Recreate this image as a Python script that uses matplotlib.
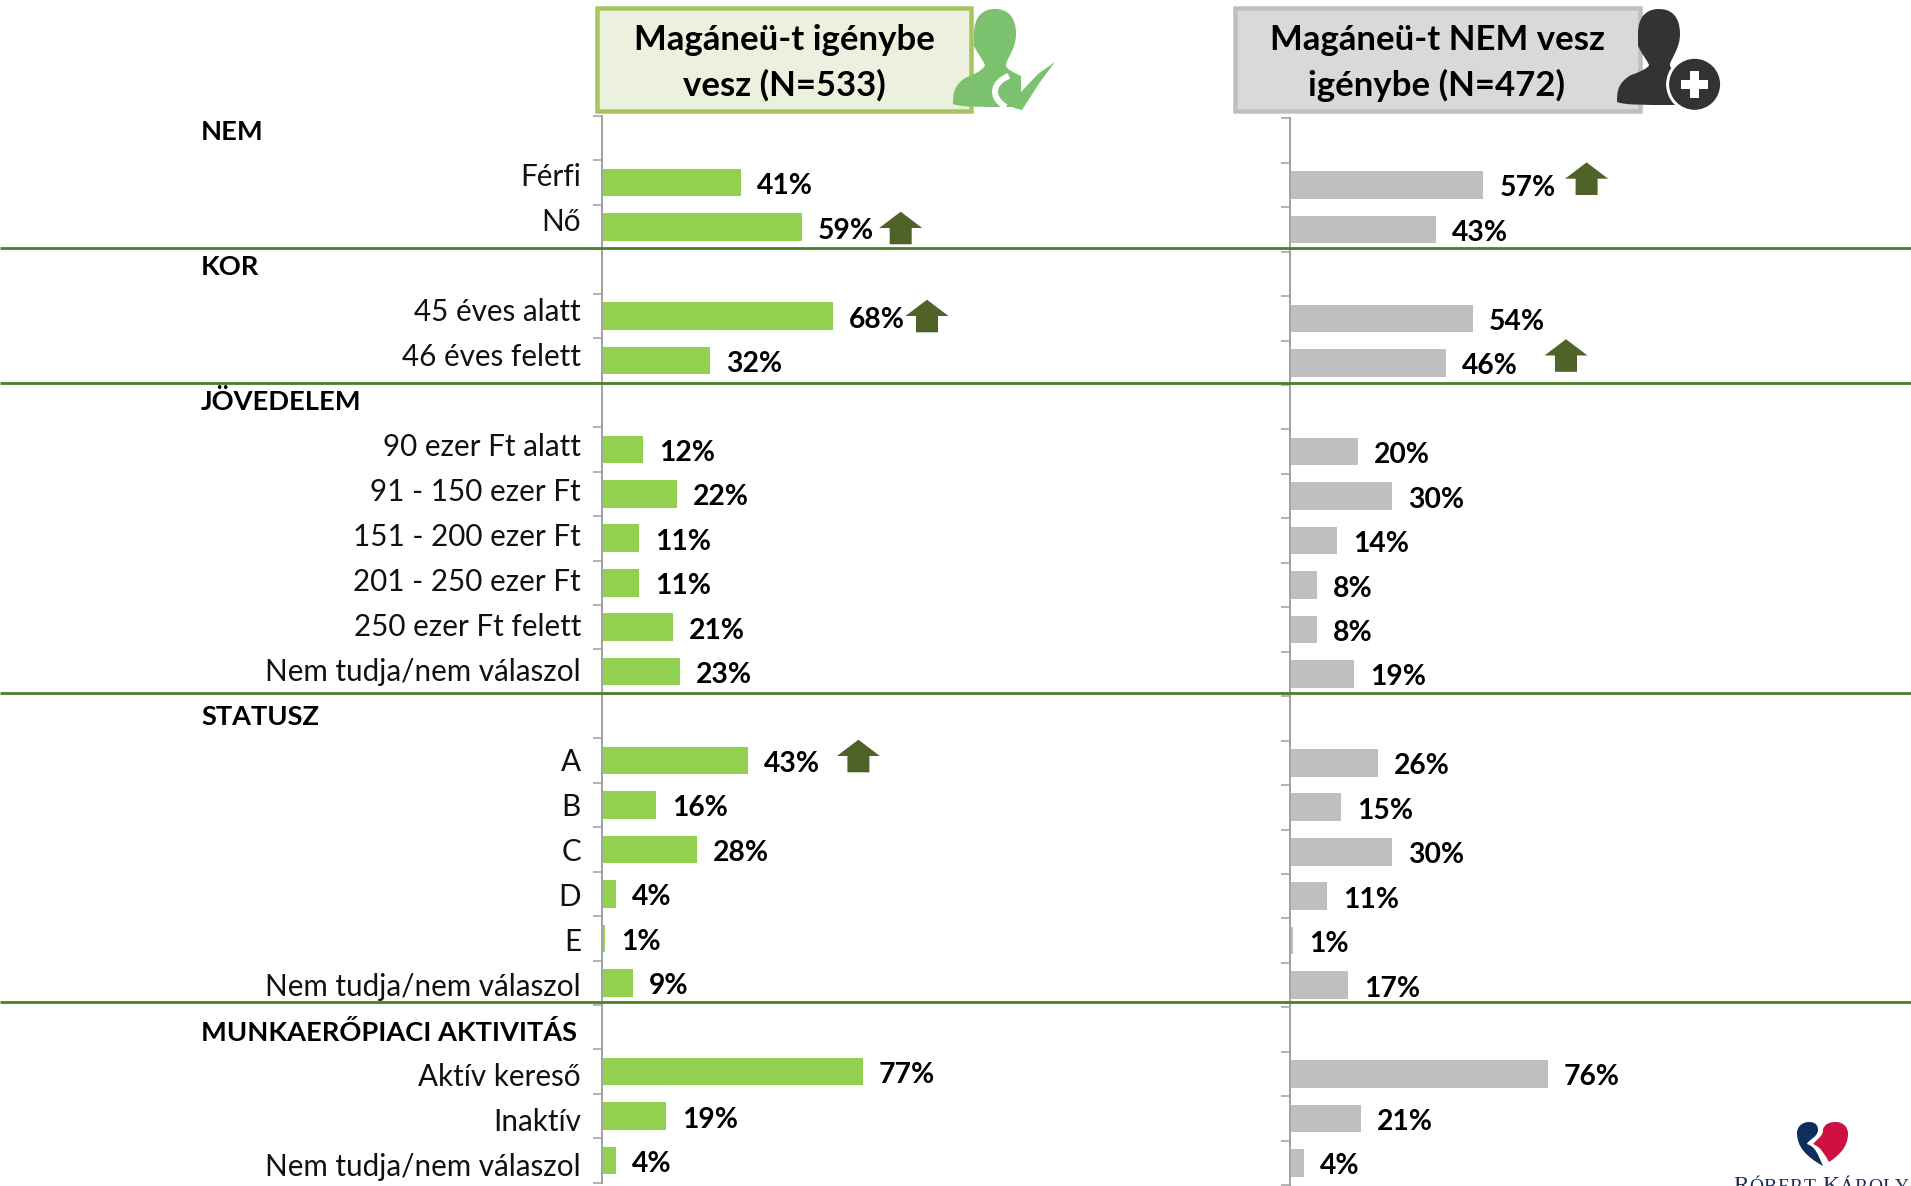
import matplotlib
matplotlib.use("Agg")
import matplotlib.pyplot as plt
from matplotlib.patches import Ellipse, Rectangle, Polygon, PathPatch
from matplotlib.path import Path

W, H = 1911, 1186
plt.rcParams['font.family'] = ['Lato', 'DejaVu Sans']

# ---- data ----
rows = ["NEM", "Férfi", "Nő", "KOR", "45 éves alatt", "46 éves felett", "JÖVEDELEM",
        "90 ezer Ft alatt", "91 - 150 ezer Ft", "151 - 200 ezer Ft", "201 - 250 ezer Ft",
        "250 ezer Ft felett", "Nem tudja/nem válaszol", "STATUSZ", "A", "B", "C", "D", "E",
        "Nem tudja/nem válaszol", "MUNKAERŐPIACI AKTIVITÁS", "Aktív kereső", "Inaktív",
        "Nem tudja/nem válaszol"]
header_rows = [0, 3, 6, 13, 20]
igenybe = [None, 41, 59, None, 68, 32, None, 12, 22, 11, 11, 21, 23, None,
           43, 16, 28, 4, 1, 9, None, 77, 19, 4]
nem_igenybe = [None, 57, 43, None, 54, 46, None, 20, 30, 14, 8, 8, 19, None,
               26, 15, 30, 11, 1, 17, None, 76, 21, 4]
title_left = "Magáneü-t igénybe\nvesz (N=533)"
title_right = "Magáneü-t NEM vesz\nigénybe (N=472)"

PX = 0.72  # points per pixel at dpi 100
FS_VAL = 20.3
FS_CAT = 21.3
FS_HEAD = 19.6
FS_TITLE = 25

fig = plt.figure(figsize=(W / 100, H / 100), dpi=100, facecolor="white")

def px_axes(x0, x1, y0, y1):
    return fig.add_axes([x0 / W, 1 - y1 / H, (x1 - x0) / W, (y1 - y0) / H])

ov = fig.add_axes([0, 0, 1, 1], zorder=5)
ov.set_xlim(0, W); ov.set_ylim(H, 0); ov.axis("off"); ov.patch.set_alpha(0)

UNIT = 3.39
def panel(x0, top, vals, color):
    bottom = top + 24 * 44.45
    width = 600
    ax = px_axes(x0, x0 + width, top, bottom)
    ax.set_zorder(3); ax.patch.set_alpha(0)
    ax.set_xlim(0, width / UNIT); ax.set_ylim(24, 0)
    pos = [i + 0.5 for i, v in enumerate(vals) if v is not None]
    val = [v for v in vals if v is not None]
    ax.barh(pos, val, height=0.62, color=color, edgecolor="none")
    for p, v in zip(pos, val):
        ax.annotate(f"{v}%", xy=(v, p), xytext=(16 * PX, -3.5 * PX), textcoords="offset points",
                    va="center", ha="left", fontsize=FS_VAL, fontweight="bold", color="black",
                    annotation_clip=False)
    for s in ("top", "right", "bottom"):
        ax.spines[s].set_visible(False)
    ax.spines["left"].set_color("#A3A3A3"); ax.spines["left"].set_linewidth(2 * PX)
    ax.set_yticks(range(25)); ax.set_yticklabels([])
    ax.set_xticks([])
    ax.tick_params(axis="y", length=9 * PX, width=1.6 * PX, color="#A3A3A3", direction="out")
    return ax

panel(602, 116, igenybe, "#92D050")
panel(1290, 118.3, nem_igenybe, "#BFBFBF")

# separators
for y in (248.4, 383, 692.7, 1001.7):
    ov.plot([0, W], [y, y], color="#4F7F2A", lw=2.8 * PX, solid_capstyle="butt", zorder=2)

# row labels
for i, name in enumerate(rows):
    y = 131.5 + 45.04 * i
    if i in header_rows:
        ov.text(201, y, name, ha="left", va="center", fontsize=FS_HEAD, fontweight="bold", color="black")
    else:
        ov.text(581, y, name, ha="right", va="center", fontsize=FS_CAT, color="#111111")

# title boxes
ov.add_patch(Rectangle((597, 8), 374, 103, fc="#EBF1DE", ec="#A6C45F", lw=4.5 * PX, zorder=3))
ov.add_patch(Rectangle((1235, 8), 405, 103, fc="#D9D9D9", ec="#BFBFBF", lw=4.5 * PX, zorder=3))
for cx, t in ((784, title_left), (1437, title_right)):
    a, b = t.split("\n")
    ov.text(cx, 40, a, ha="center", va="center", fontsize=FS_TITLE, fontweight="bold", color="black", zorder=4)
    ov.text(cx, 85, b, ha="center", va="center", fontsize=FS_TITLE, fontweight="bold", color="black", zorder=4)

# person icons
def person(hx, color, bottom):
    pts = [(hx - 21, 34), (hx - 21, 16), (hx - 12, 9), (hx, 9), (hx + 12, 9), (hx + 21, 16), (hx + 21, 34),
           (hx + 21, 48), (hx + 13, 57), (hx + 11, 64), (hx + 10, 69), (hx + 18, 72), (hx + 26, 76),
           (hx + 26, 90), (hx + 26, bottom), (hx + 26, bottom),
           (hx - 25, bottom), (hx - 33, bottom), (hx - 42, bottom - 3), (hx - 42, bottom - 12),
           (hx - 42, bottom - 22), (hx - 28, bottom - 30), (hx - 16, bottom - 34),
           (hx - 10, 67), (hx - 10, 65), (hx - 11, 62), (hx - 17, 54), (hx - 21, 46), (hx - 21, 34)]
    codes = [Path.MOVETO] + [Path.CURVE4] * 12 + [Path.LINETO] * 3 + [Path.CURVE4] * 12 + [Path.LINETO]
    ov.add_patch(PathPatch(Path(pts, codes), fc=color, ec="none", zorder=4.5))

person(995, "#7BC16E", 107)
person(1659, "#333333", 105)

# check mark
ck = [(999, 88), (1009, 80), (1021, 92), (1038, 74), (1055, 62), (1040, 82), (1022, 110), (1014, 108)]
ov.add_patch(Polygon(ck, closed=True, fc="#7BC16E", ec="white", lw=0, zorder=4.7))
ov.add_patch(PathPatch(Path([(1009, 76), (992, 82), (990, 98), (1006, 107)],
                            [Path.MOVETO, Path.CURVE4, Path.CURVE4, Path.CURVE4]),
                       fc="none", ec="white", lw=6 * PX, zorder=4.6))

# plus badge
ov.add_patch(Ellipse((1694.6, 84.3), 54, 54, fc="#333333", ec="white", lw=3 * PX, zorder=4.7))
ov.add_patch(Rectangle((1681, 80), 27, 9, fc="white", ec="none", zorder=4.8))
ov.add_patch(Rectangle((1690, 71), 9, 27, fc="white", ec="none", zorder=4.8))

# significance arrows
def up_arrow(cx, cy):
    w, h, s, hh = 21.5, 16.3, 11, 16.3
    pts = [(cx - w, cy), (cx, cy - h), (cx + w, cy), (cx + s, cy), (cx + s, cy + hh), (cx - s, cy + hh), (cx - s, cy)]
    ov.add_patch(Polygon(pts, closed=True, fc="#4F6228", ec="none", zorder=4))

for cx, cy in ((900.7, 228), (927, 316), (858.4, 756), (1586.6, 178.7), (1566, 355.5)):
    up_arrow(cx, cy)

# logo
heart_l = [(1823, 1166), (1805, 1156), (1797, 1146), (1797, 1133), (1797, 1126), (1803, 1122), (1809, 1122),
           (1816, 1122), (1818, 1126), (1818, 1130), (1818, 1137), (1808, 1140), (1807, 1144),
           (1816, 1147), (1818, 1155), (1823, 1166)]
cl = [Path.MOVETO] + [Path.CURVE4] * 15
ov.add_patch(PathPatch(Path(heart_l, cl), fc="#0F2F5B", ec="none", zorder=4))
heart_r = [(1829, 1162), (1840, 1155), (1848, 1146), (1848, 1134), (1848, 1126), (1842, 1122), (1836, 1122),
           (1829, 1122), (1825, 1124), (1823, 1129), (1824, 1136), (1816, 1140), (1813, 1144),
           (1822, 1148), (1824, 1154), (1829, 1162)]
ov.add_patch(PathPatch(Path(heart_r, cl), fc="#CE1141", ec="none", zorder=4))

fig.canvas.draw()
rend = fig.canvas.get_renderer()
xpos = 1733
for ch, big in [("R", 1), ("Ó", 0), ("B", 0), ("E", 0), ("R", 0), ("T", 0), (" ", 0),
                ("K", 1), ("Á", 0), ("R", 0), ("O", 0), ("L", 0), ("Y", 0)]:
    t = ov.text(xpos, 1192, ch, family="Liberation Serif", fontsize=17 if big else 14,
                color="#1A2F55", ha="left", va="baseline", zorder=4)
    xpos += (t.get_window_extent(rend).width if ch != " " else 6) + 0.5

fig.savefig("out.png", dpi=100, facecolor="white")
